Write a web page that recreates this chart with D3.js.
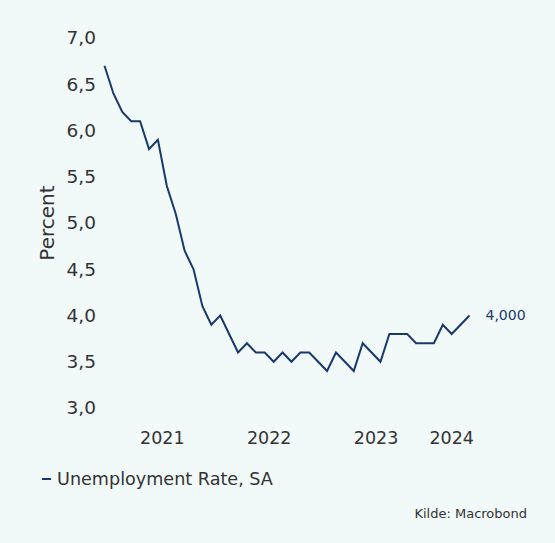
<!DOCTYPE html>
<html>
<head>
<meta charset="utf-8">
<script src="https://cdn.jsdelivr.net/npm/d3@7"></script>
<style>
  html, body { margin: 0; padding: 0; background: #f1f9f9; }
  svg { display: block; }
  text { font-family: "DejaVu Sans", sans-serif; }
</style>
</head>
<body>
<svg id="chart" width="555" height="543"></svg>
<script>
// Monthly US unemployment rate, seasonally adjusted (Dec 2020 – May 2024)
const startMonth = "2020-12";
const rates = [
  6.7,                                                        // Dec 2020
  6.4, 6.2, 6.1, 6.1, 5.8, 5.9, 5.4, 5.1, 4.7, 4.5, 4.1, 3.9, // 2021
  4.0, 3.8, 3.6, 3.7, 3.6, 3.6, 3.5, 3.6, 3.5, 3.6, 3.6, 3.5, // 2022
  3.4, 3.6, 3.5, 3.4, 3.7, 3.6, 3.5, 3.8, 3.8, 3.8, 3.7, 3.7, // 2023
  3.7, 3.9, 3.8, 3.9, 4.0                                     // 2024
];
const yTicks = [3.0, 3.5, 4.0, 4.5, 5.0, 5.5, 6.0, 6.5, 7.0];
const years = [2021, 2022, 2023, 2024];
const seriesName = "Unemployment Rate, SA";
const yTitle = "Percent";
const source = "Kilde: Macrobond";

const [y0, m0] = startMonth.split("-").map(Number);
const data = rates.map((v, i) => ({ i, year: y0 + Math.floor((m0 - 1 + i) / 12), value: v }));

const svg = d3.select("#chart");
const lineColor = "#18396a";
const textColor = "#333333";
const font = "'DejaVu Sans', sans-serif";
const comma = v => d3.format(".1f")(v).replace(".", ",");

const x = d3.scaleLinear().domain([0, rates.length - 1]).range([104.5, 469.5]);
const y = d3.scaleLinear().domain([3, 7]).range([408, 38]);

// Y axis labels
const yAxis = d3.axisLeft(y).tickValues(yTicks).tickFormat(comma).tickSize(0).tickPadding(0);
const gy = svg.append("g").attr("transform", "translate(96,0)").call(yAxis);
gy.select(".domain").remove();
gy.selectAll("text").attr("fill", textColor)
  .style("font-size", "18.5px").style("font-family", font);

svg.append("text")
  .attr("transform", `translate(54,${y(5)}) rotate(-90)`)
  .attr("text-anchor", "middle")
  .attr("fill", textColor)
  .style("font-size", "20px")
  .text(yTitle);

// X axis: one label per year, centred on that year's visible months
const yearCenters = years.map(yr => {
  const idx = data.filter(d => d.year === yr).map(d => d.i);
  return { yr, pos: x((d3.min(idx) + d3.max(idx)) / 2) };
});
svg.append("g").selectAll("text").data(yearCenters).join("text")
  .attr("x", d => d.pos)
  .attr("y", 444)
  .attr("text-anchor", "middle")
  .attr("fill", textColor)
  .style("font-size", "17.5px")
  .text(d => d.yr);

// Series line
const line = d3.line().x(d => x(d.i)).y(d => y(d.value));
svg.append("path")
  .datum(data)
  .attr("d", line)
  .attr("fill", "none")
  .attr("stroke", lineColor)
  .attr("stroke-width", 2)
  .attr("stroke-linejoin", "miter");

// Last value label
const last = data[data.length - 1];
svg.append("text")
  .attr("x", x(last.i) + 16)
  .attr("y", y(last.value))
  .attr("dy", "0.35em")
  .attr("fill", lineColor)
  .style("font-size", "14px")
  .text(d3.format(".3f")(last.value).replace(".", ","));

// Legend
svg.append("line")
  .attr("x1", 42).attr("x2", 51)
  .attr("y1", 479).attr("y2", 479)
  .attr("stroke", lineColor).attr("stroke-width", 2);
svg.append("text")
  .attr("x", 57).attr("y", 479)
  .attr("dy", "0.35em")
  .attr("fill", textColor)
  .style("font-size", "17.6px")
  .text(seriesName);

// Source
svg.append("text")
  .attr("x", 527).attr("y", 513)
  .attr("dy", "0.35em")
  .attr("text-anchor", "end")
  .attr("fill", textColor)
  .style("font-size", "13px")
  .text(source);
</script>
</body>
</html>
